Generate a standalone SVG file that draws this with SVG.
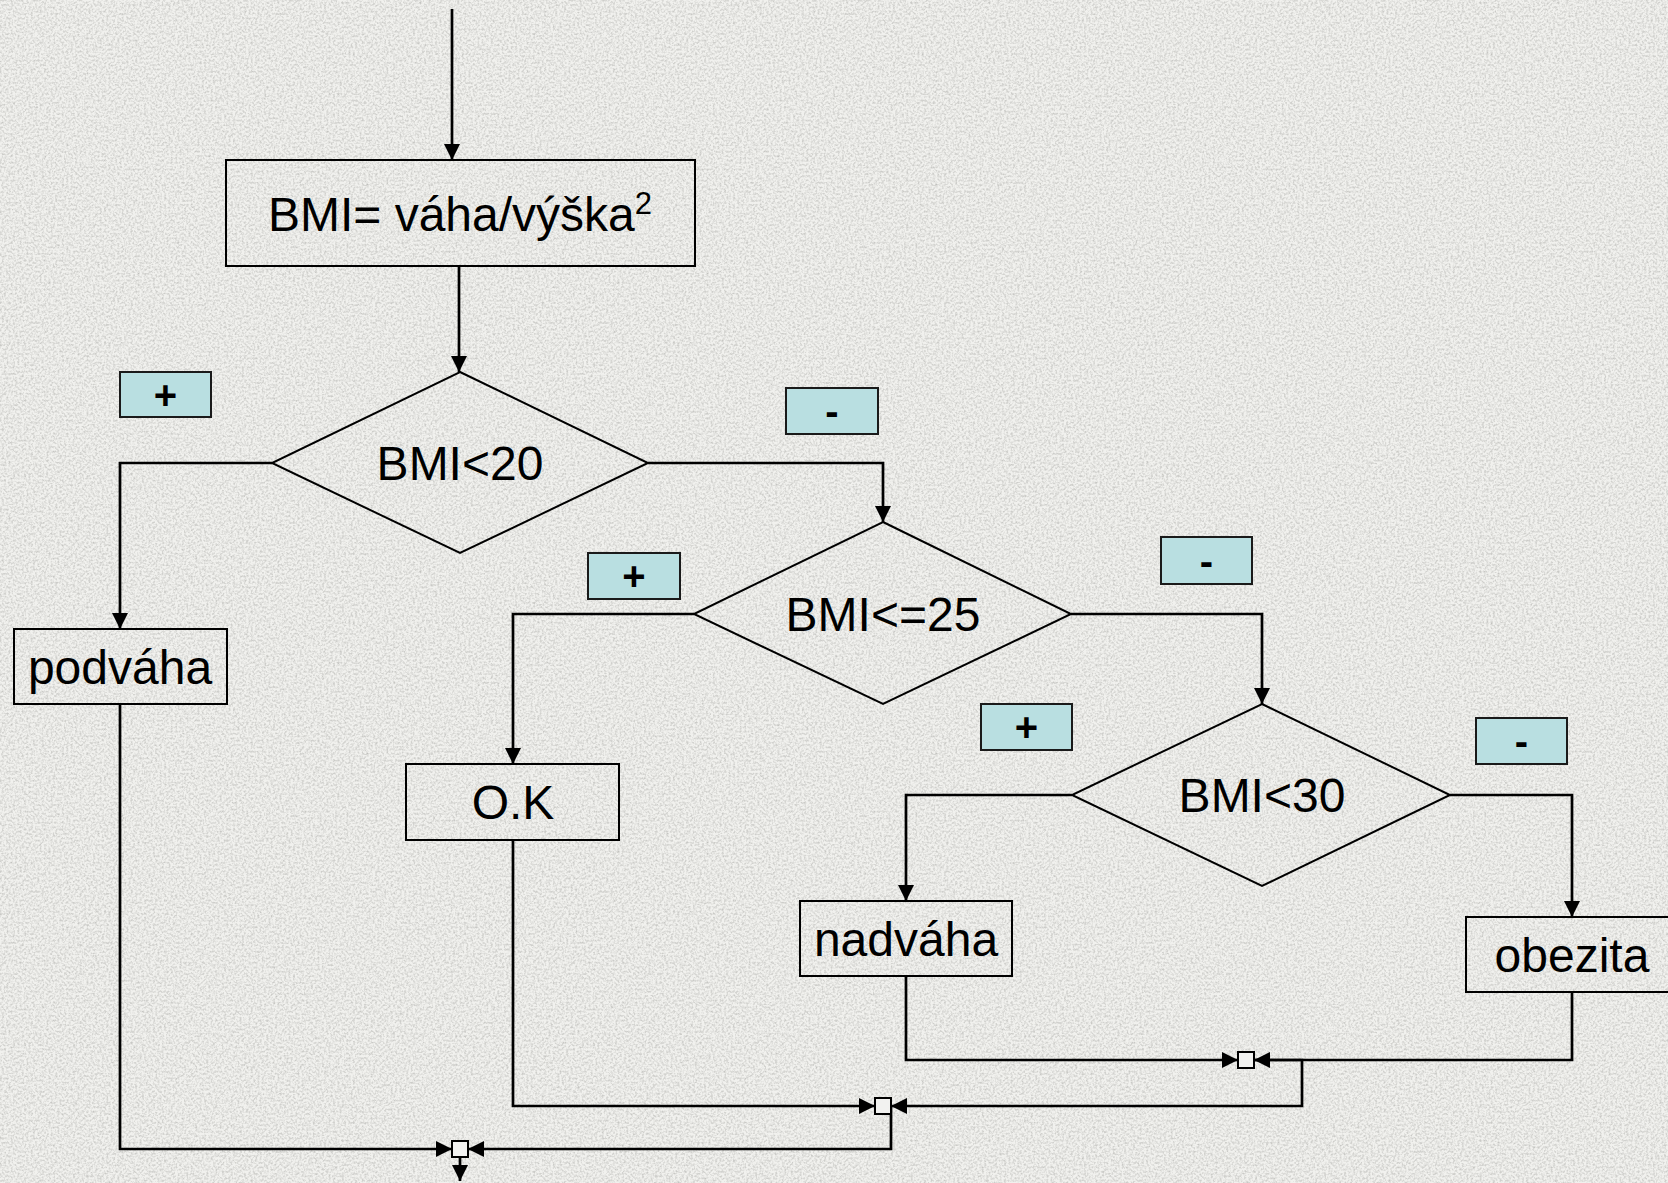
<svg xmlns="http://www.w3.org/2000/svg" width="1668" height="1183" viewBox="0 0 1668 1183">
<defs>
<style>
.box{fill:none;stroke:#000;stroke-width:2}
.dia{fill:none;stroke:#000;stroke-width:2}
.tag{fill:#b9dfe1;stroke:#1a1a1a;stroke-width:2}
.jn{fill:#f2f2f0;stroke:#000;stroke-width:2}
.t{font-family:"Liberation Sans",Arial,sans-serif;font-size:48px;fill:#000;text-anchor:middle}
.s{font-family:"Liberation Sans",Arial,sans-serif;font-size:40px;font-weight:bold;fill:#000;text-anchor:middle}
.c{fill:none;stroke:#000;stroke-width:2.7}
</style>
<marker id="ah" markerUnits="userSpaceOnUse" markerWidth="17" markerHeight="16" refX="16" refY="8" orient="auto">
<path d="M0,0 L16,8 L0,16 z" fill="#000"/>
</marker>
<filter id="grain" x="0" y="0" width="100%" height="100%">
<feTurbulence type="fractalNoise" baseFrequency="0.45" numOctaves="3" seed="5"/>
<feColorMatrix type="matrix" values="0 0 0 0 0.5  0 0 0 0 0.5  0 0 0 0 0.48  1.6 0 0 0 -0.62"/>
</filter>
</defs>
<rect width="1668" height="1183" fill="#f1f1ee"/>
<rect width="1668" height="1183" filter="url(#grain)"/>

<g id="connectors">
<path class="c" d="M452,9 V160" marker-end="url(#ah)"/>
<path class="c" d="M459,266 V372" marker-end="url(#ah)"/>
<path class="c" d="M272,463 H120 V629" marker-end="url(#ah)"/>
<path class="c" d="M648,463 H883 V522" marker-end="url(#ah)"/>
<path class="c" d="M694,614 H513 V764" marker-end="url(#ah)"/>
<path class="c" d="M1071,614 H1262 V704" marker-end="url(#ah)"/>
<path class="c" d="M1072,795 H906 V901" marker-end="url(#ah)"/>
<path class="c" d="M1450,795 H1572 V917" marker-end="url(#ah)"/>
<path class="c" d="M906,976 V1060 H1238" marker-end="url(#ah)"/>
<path class="c" d="M1572,992 V1060 H1254" marker-end="url(#ah)"/>
<path class="c" d="M1254,1060 H1302 V1106 H891" marker-end="url(#ah)"/>
<path class="c" d="M513,840 V1106 H875" marker-end="url(#ah)"/>
<path class="c" d="M891,1106 V1149 H468" marker-end="url(#ah)"/>
<path class="c" d="M120,704 V1149 H452" marker-end="url(#ah)"/>
<path class="c" d="M460,1157 V1181" marker-end="url(#ah)"/>
</g>

<g id="calc">
<rect class="box" x="226" y="160" width="469" height="106"/>
<text class="t" x="460" y="231">BMI= váha/výška<tspan font-size="31" dy="-17">2</tspan></text>
</g>

<g id="dec1">
<polygon class="dia" points="460,372 648,463 460,553 272,463"/>
<text class="t" x="460" y="480">BMI&lt;20</text>
</g>
<g id="tag1plus"><rect class="tag" x="120" y="372" width="91" height="45"/><text class="s" x="165.5" y="409">+</text></g>
<g id="tag1minus"><rect class="tag" x="786" y="388" width="92" height="46"/><text class="s" x="832" y="425">-</text></g>

<g id="podvaha">
<rect class="box" x="14" y="629" width="213" height="75"/>
<text class="t" x="120" y="684">podváha</text>
</g>

<g id="dec2">
<polygon class="dia" points="883,522 1071,614 883,704 694,614"/>
<text class="t" x="883" y="631">BMI&lt;=25</text>
</g>
<g id="tag2plus"><rect class="tag" x="588" y="553" width="92" height="46"/><text class="s" x="634" y="590">+</text></g>
<g id="tag2minus"><rect class="tag" x="1161" y="537" width="91" height="47"/><text class="s" x="1206.5" y="575">-</text></g>

<g id="ok">
<rect class="box" x="406" y="764" width="213" height="76"/>
<text class="t" x="513" y="819">O.K</text>
</g>

<g id="dec3">
<polygon class="dia" points="1262,704 1450,795 1262,886 1072,795"/>
<text class="t" x="1262" y="812">BMI&lt;30</text>
</g>
<g id="tag3plus"><rect class="tag" x="981" y="704" width="91" height="46"/><text class="s" x="1026.5" y="741">+</text></g>
<g id="tag3minus"><rect class="tag" x="1476" y="718" width="91" height="46"/><text class="s" x="1521.5" y="755">-</text></g>

<g id="nadvaha">
<rect class="box" x="800" y="901" width="212" height="75"/>
<text class="t" x="906" y="956">nadváha</text>
</g>

<g id="obezita">
<rect class="box" x="1466" y="917" width="212" height="75"/>
<text class="t" x="1572" y="972">obezita</text>
</g>

<g id="join1"><rect class="jn" x="1238" y="1052" width="16" height="16"/></g>
<g id="join2"><rect class="jn" x="875" y="1098" width="16" height="16"/></g>
<g id="join3"><rect class="jn" x="452" y="1141" width="16" height="16"/></g>
</svg>
